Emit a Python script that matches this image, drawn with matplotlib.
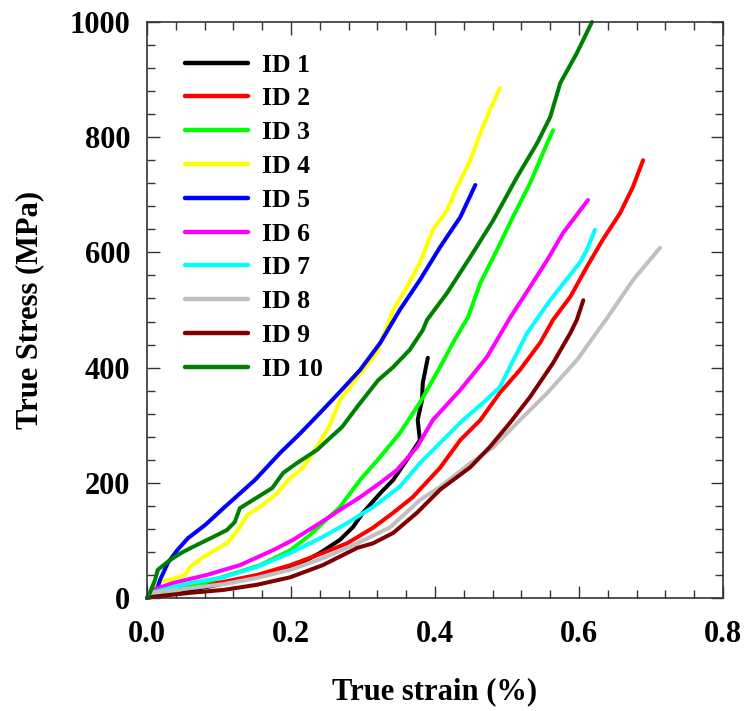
import matplotlib
matplotlib.use("Agg")
import matplotlib.pyplot as plt
from matplotlib.ticker import MultipleLocator

plt.rcParams['font.family'] = ['Liberation Serif', 'DejaVu Serif']
plt.rcParams['font.weight'] = 'bold'

labels = ["ID 1", "ID 2", "ID 3", "ID 4", "ID 5", "ID 6", "ID 7", "ID 8", "ID 9", "ID 10"]
colors = ["#000000", "#ff0000", "#00ff00", "#ffff00", "#0000ff",
          "#ff00ff", "#00ffff", "#c0c0c0", "#800000", "#008000"]

id1_x = [0, 0.008, 0.036, 0.083, 0.129, 0.175, 0.208, 0.24, 0.268, 0.286, 0.3, 0.324, 0.342, 0.361, 0.379, 0.376, 0.382, 0.383, 0.39]
id1_y = [0, 5, 10, 19, 31, 43, 57, 78, 101, 123, 148, 182, 205, 240, 274, 309, 344, 373, 417]

id2_x = [0, 0.008, 0.06, 0.106, 0.153, 0.199, 0.244, 0.278, 0.314, 0.342, 0.369, 0.407, 0.435, 0.463, 0.49, 0.518, 0.546, 0.564, 0.588, 0.611, 0.633, 0.657, 0.675, 0.689]
id2_y = [0, 9, 19, 28, 40, 57, 78, 95, 122, 148, 175, 226, 274, 309, 356, 396, 443, 483, 523, 575, 622, 668, 714, 760]

id3_x = [0, 0.046, 0.101, 0.157, 0.199, 0.226, 0.268, 0.296, 0.324, 0.351, 0.379, 0.407, 0.425, 0.446, 0.463, 0.486, 0.508, 0.532, 0.556, 0.564]
id3_y = [0, 14, 35, 57, 83, 109, 158, 205, 245, 286, 339, 401, 443, 488, 547, 604, 661, 720, 790, 812]

id4_x = [0, 0.003, 0.008, 0.011, 0.018, 0.035, 0.053, 0.06, 0.076, 0.09, 0.113, 0.129, 0.139, 0.157, 0.181, 0.196, 0.217, 0.236, 0.254, 0.268, 0.289, 0.319, 0.342, 0.361, 0.379, 0.397, 0.417, 0.431, 0.449, 0.463, 0.476, 0.49]
id4_y = [0, 5, 9, 19, 28, 33, 40, 54, 69, 80, 97, 123, 144, 158, 182, 205, 227, 262, 300, 344, 378, 425, 500, 540, 582, 639, 674, 714, 760, 807, 847, 885]

id5_x = [0, 0.004, 0.014, 0.015, 0.018, 0.029, 0.042, 0.057, 0.081, 0.108, 0.15, 0.185, 0.213, 0.24, 0.268, 0.296, 0.324, 0.351, 0.379, 0.407, 0.435, 0.456]
id5_y = [0, 7, 14, 19, 31, 61, 83, 104, 127, 158, 205, 252, 286, 321, 358, 396, 443, 500, 552, 609, 661, 717]

id6_x = [0, 0.008, 0.036, 0.083, 0.129, 0.175, 0.203, 0.24, 0.268, 0.296, 0.324, 0.347, 0.375, 0.397, 0.435, 0.472, 0.504, 0.532, 0.556, 0.578, 0.6125]
id6_y = [0, 14, 26, 40, 57, 83, 101, 130, 153, 175, 200, 222, 262, 309, 361, 418, 486, 540, 587, 634, 691]

id7_x = [0, 0.008, 0.06, 0.106, 0.153, 0.199, 0.244, 0.278, 0.314, 0.351, 0.379, 0.407, 0.439, 0.467, 0.49, 0.504, 0.528, 0.56, 0.601, 0.611, 0.622]
id7_y = [0, 10, 26, 36, 54, 78, 106, 130, 158, 193, 234, 269, 309, 339, 366, 401, 460, 517, 582, 604, 639]

id8_x = [0, 0.008, 0.06, 0.106, 0.153, 0.199, 0.244, 0.292, 0.338, 0.379, 0.407, 0.449, 0.481, 0.518, 0.556, 0.597, 0.639, 0.675, 0.7125]
id8_y = [0, 9, 17, 24, 35, 49, 69, 95, 123, 170, 193, 234, 262, 309, 356, 413, 486, 552, 608]

id9_x = [0, 0.008, 0.06, 0.106, 0.153, 0.199, 0.244, 0.292, 0.314, 0.342, 0.375, 0.407, 0.449, 0.476, 0.504, 0.532, 0.564, 0.588, 0.597, 0.606]
id9_y = [0, 2, 9, 14, 23, 36, 57, 87, 95, 113, 148, 188, 227, 262, 304, 349, 408, 460, 483, 517]

id10_x = [0, 0.004, 0.011, 0.015, 0.032, 0.05, 0.069, 0.092, 0.111, 0.122, 0.129, 0.147, 0.174, 0.189, 0.208, 0.236, 0.271, 0.292, 0.321, 0.342, 0.365, 0.383, 0.389, 0.417, 0.449, 0.481, 0.514, 0.542, 0.56, 0.574, 0.597, 0.618]
id10_y = [0, 9, 31, 49, 66, 80, 92, 106, 118, 132, 156, 170, 191, 217, 234, 257, 297, 332, 378, 401, 431, 465, 483, 530, 592, 656, 731, 790, 835, 894, 946, 1000]

series_x = [id1_x, id2_x, id3_x, id4_x, id5_x, id6_x, id7_x, id8_x, id9_x, id10_x]
series_y = [id1_y, id2_y, id3_y, id4_y, id5_y, id6_y, id7_y, id8_y, id9_y, id10_y]

x_ticks = [0.0, 0.2, 0.4, 0.6, 0.8]
x_ticklabels = ["0.0", "0.2", "0.4", "0.6", "0.8"]
y_ticks = [0, 200, 400, 600, 800, 1000]
y_ticklabels = ["0", "200", "400", "600", "800", "1000"]

fig = plt.figure(figsize=(7.45, 7.11), dpi=100)
ax = fig.add_axes([147/745, 113/711, 576/745, 576/711])

for xs, ys, c, lab in zip(series_x, series_y, colors, labels):
    ax.plot(xs, ys, color=c, lw=2.9, label=lab, solid_capstyle='round', solid_joinstyle='round', clip_on=False)

ax.set_xlim(0, 0.8)
ax.set_ylim(0, 1000)
ax.set_xticks(x_ticks)
ax.set_xticklabels(x_ticklabels)
ax.set_yticks(y_ticks)
ax.set_yticklabels(y_ticklabels)
ax.xaxis.set_minor_locator(MultipleLocator(0.04))
ax.yaxis.set_minor_locator(MultipleLocator(40))
ax.tick_params(which='both', direction='in', top=True, right=True, color='#333333', width=1.0)
ax.tick_params(which='major', length=9)
ax.tick_params(which='minor', length=6)
ax.tick_params(axis='x', which='major', labelsize=22, pad=16)
ax.tick_params(axis='y', which='major', labelsize=22, pad=12)
for lbl in ax.get_xticklabels() + ax.get_yticklabels():
    lbl.set_fontweight('bold')
for sp in ax.spines.values():
    sp.set_linewidth(1.2)
    sp.set_color('#333333')

ax.set_xlabel("True strain (%)", fontsize=22, fontweight='bold', labelpad=20)
ax.set_ylabel("True Stress (MPa)", fontsize=22, fontweight='bold')
ax.yaxis.set_label_coords(-0.178, 0.5)

leg = ax.legend(loc='upper left', bbox_to_anchor=(0.066, 0.945), frameon=False,
                prop={'size': 18.5, 'weight': 'bold'}, handlelength=2.45,
                handletextpad=0.55, labelspacing=0.42, borderaxespad=0, borderpad=0)
for line in leg.get_lines():
    line.set_linewidth(3.2)

fig.savefig("out.png", dpi=100)
